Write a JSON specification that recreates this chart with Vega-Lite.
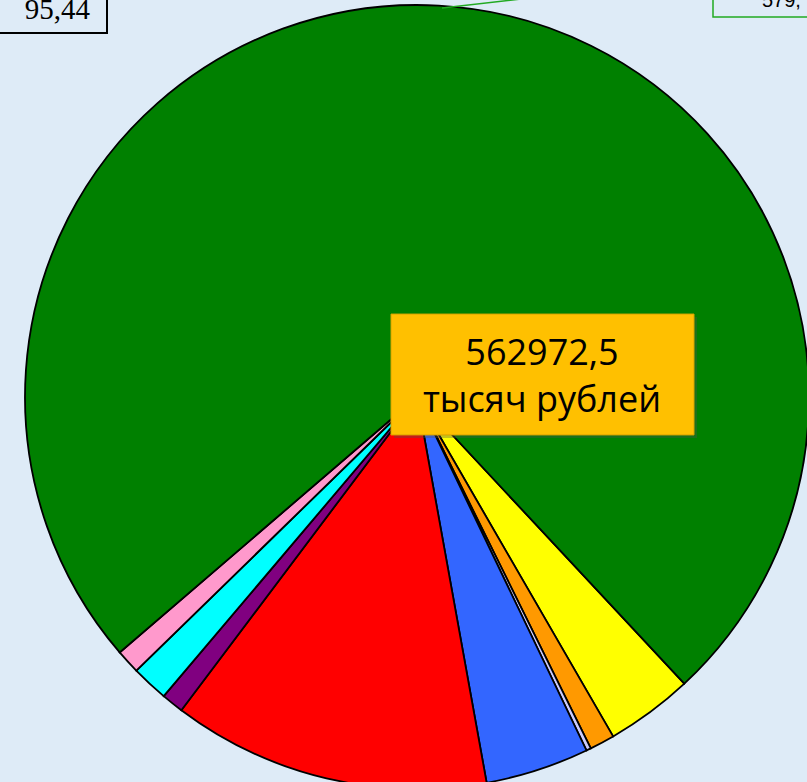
{
  "$schema": "https://vega.github.io/schema/vega-lite/v6.json",
  "width": 834,
  "height": 794,
  "autosize": "none",
  "padding": 0,
  "background": "#DEEBF7",
  "config": {"view": {"stroke": null}},
  "datasets": {
    "slices": [
      {"name": "yellow", "value": 20300, "o": 1},
      {"name": "orange", "value": 5786, "o": 2},
      {"name": "lavender", "value": 1095, "o": 3},
      {"name": "blue", "value": 24057, "o": 4},
      {"name": "red", "value": 73795.44, "o": 5},
      {"name": "purple", "value": 5160, "o": 6},
      {"name": "cyan", "value": 8570, "o": 7},
      {"name": "pink", "value": 5630, "o": 8},
      {"name": "green", "value": 418579, "o": 9}
    ],
    "total": [{"line1": "562972,5", "line2": "тысяч рублей"}],
    "redlabel": [{"label": "95,44"}],
    "greenlabel": [{"label": "579,"}]
  },
  "layer": [
    {
      "data": {"name": "slices"},
      "mark": {"type": "arc", "radius": 392, "stroke": "#000000", "strokeWidth": 1.8},
      "encoding": {
        "theta": {"field": "value", "type": "quantitative", "stack": true, "scale": {"range": [2.3911, 8.6743]}},
        "order": {"field": "o", "type": "quantitative"},
        "color": {
          "field": "name", "type": "nominal", "legend": null,
          "scale": {
            "domain": ["yellow", "orange", "lavender", "blue", "red", "purple", "cyan", "pink", "green"],
            "range": ["#FFFF00", "#FF9900", "#CCCCFF", "#3366FF", "#FF0000", "#800080", "#00FFFF", "#FF99CC", "#008000"]
          }
        }
      }
    },
    {
      "data": {"name": "total"},
      "mark": {"type": "point", "shape": "M-1,-0.399H1V0.399H-1Z", "size": 91809, "filled": true, "fill": "#505050", "opacity": 0.35, "strokeWidth": 0, "xOffset": 128.5, "yOffset": -19.5},
      "encoding": {}
    },
    {
      "data": {"name": "total"},
      "mark": {"type": "point", "shape": "M-1,-0.399H1V0.399H-1Z", "size": 91809, "filled": true, "fill": "#FFC000", "opacity": 1, "stroke": "#D9A200", "strokeWidth": 1, "xOffset": 125.5, "yOffset": -22.5},
      "encoding": {}
    },
    {
      "data": {"name": "total"},
      "mark": {"type": "text", "font": "Open Sans", "fontSize": 36, "lineHeight": 47, "align": "center", "baseline": "alphabetic", "color": "#000000", "dx": 125, "dy": -32},
      "encoding": {"text": {"value": ["562972,5", "тысяч рублей"]}}
    },
    {
      "data": {"name": "redlabel"},
      "mark": {"type": "point", "shape": "M-1,-0.437H1V0.437H-1Z", "size": 27889, "filled": false, "stroke": "#000000", "strokeWidth": 2, "opacity": 1, "xOffset": -393.5, "yOffset": -400.5},
      "encoding": {}
    },
    {
      "data": {"name": "redlabel"},
      "mark": {"type": "text", "font": "Liberation Serif", "fontSize": 29, "align": "right", "baseline": "alphabetic", "color": "#000000", "dx": -327, "dy": -378},
      "encoding": {"text": {"field": "label"}}
    },
    {
      "data": {"name": "greenlabel"},
      "mark": {"type": "point", "shape": "M0,0L1,-0.1136", "size": 30976, "filled": false, "stroke": "#22AA22", "strokeWidth": 1.5, "opacity": 1, "xOffset": 25, "yOffset": -389},
      "encoding": {}
    },
    {
      "data": {"name": "greenlabel"},
      "mark": {"type": "point", "shape": "M-1,-0.305H1V0.305H-1Z", "size": 34969, "filled": false, "stroke": "#22AA22", "strokeWidth": 1.5, "opacity": 1, "xOffset": 389.5, "yOffset": -408.5},
      "encoding": {}
    },
    {
      "data": {"name": "greenlabel"},
      "mark": {"type": "text", "font": "Liberation Sans", "fontSize": 20, "align": "left", "baseline": "alphabetic", "color": "#000000", "dx": 345, "dy": -390},
      "encoding": {"text": {"field": "label"}}
    }
  ]
}
